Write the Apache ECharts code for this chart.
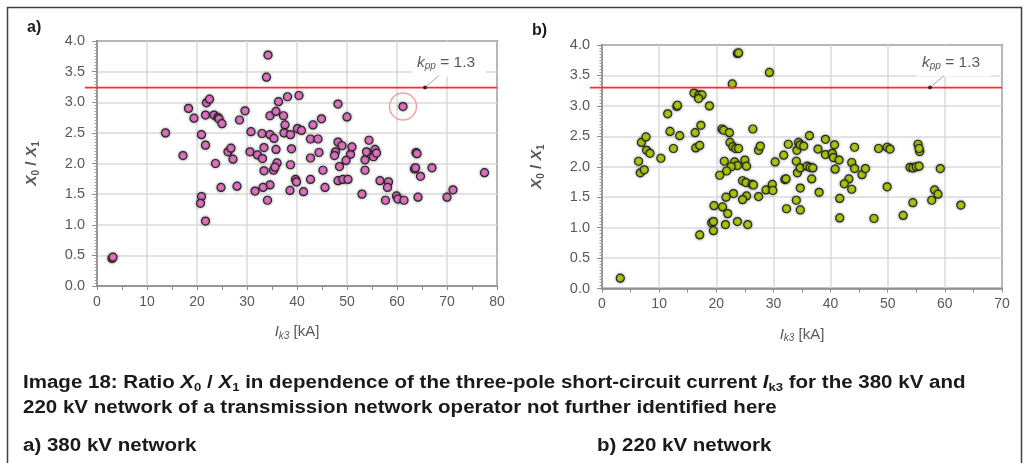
<!DOCTYPE html>
<html><head><meta charset="utf-8">
<script src="https://cdn.jsdelivr.net/npm/echarts@6/dist/echarts.min.js"></script>
<style>html,body{margin:0;padding:0;background:#fff}#c{width:1030px;height:463px}</style>
</head><body><div id="c"></div>
<script>
// ---- data ----
// a) 380 kV network: Ik3 [kA] and X0/X1
const netA_ik3 = [3.0,3.2,13.7,17.2,18.3,19.4,21.9,22.5,21.7,23.4,24.2,24.4,25.0,20.9,21.7,23.7,20.9,20.7,21.7,24.8,28.0,26.2,26.8,27.2,28.5,29.6,30.8,30.6,32.1,33.1,33.4,33.0,34.6,35.4,35.8,36.0,35.3,35.6,33.4,34.6,33.2,31.6,34.1,34.6,35.8,36.3,38.1,40.4,37.3,37.6,37.4,38.7,40.1,40.9,38.9,38.7,39.7,39.9,38.6,41.3,42.7,42.7,42.7,44.2,43.2,44.9,44.4,45.2,45.6,48.2,50.0,48.2,49.0,47.7,47.5,48.5,48.2,49.2,50.2,50.7,49.8,51.0,53.0,53.6,53.6,53.9,54.4,55.3,55.6,55.9,56.6,58.3,58.1,57.7,59.9,60.2,61.4,64.2,61.2,63.8,64.0,63.5,63.7,64.7,67.0,70.0,71.2,77.5,34.2,33.9];
const netA_ratio = [0.45,0.47,2.50,2.13,2.90,2.74,2.99,3.05,2.79,2.79,2.75,2.73,2.65,2.47,2.30,2.00,1.46,1.35,1.06,1.61,1.63,2.19,2.25,2.07,2.71,2.86,2.52,2.19,2.14,2.08,2.26,2.49,2.47,2.41,2.23,2.01,1.89,1.94,1.88,1.65,1.61,1.55,1.40,2.78,2.85,3.01,3.09,3.11,2.78,2.63,2.50,2.47,2.57,2.54,2.24,1.98,1.74,1.70,1.56,1.54,1.74,2.09,2.40,2.40,2.63,2.73,2.18,1.89,1.61,2.97,2.76,2.35,2.29,2.19,2.13,1.95,1.72,1.74,1.74,2.15,2.05,2.27,1.50,1.89,2.06,2.19,2.38,2.11,2.23,2.17,1.72,1.70,1.61,1.40,1.47,1.42,1.40,1.45,2.93,2.18,2.16,1.91,1.93,1.79,1.93,1.45,1.57,1.85,3.77,3.41];
// b) 220 kV network
const netB_ik3 = [3.2,6.4,6.7,7.4,6.9,7.7,7.8,8.4,10.3,11.5,11.9,12.5,13.1,13.2,13.6,16.1,17.0,17.5,16.9,18.8,16.3,17.3,16.4,17.1,21.0,21.3,22.3,26.4,22.4,22.9,23.4,23.9,27.4,27.7,21.4,23.2,23.7,22.6,21.8,20.6,25.0,25.3,24.6,25.2,26.3,26.5,25.3,24.6,23.0,21.7,27.4,28.7,29.8,29.9,19.6,21.1,22.0,19.2,19.5,19.5,17.1,21.6,23.7,25.5,30.3,31.8,32.0,32.2,32.6,34.1,34.0,34.4,34.7,35.3,34.2,34.7,35.9,36.4,36.9,36.3,34.7,36.7,38.0,34.0,32.3,34.7,37.8,39.1,39.1,40.3,40.7,40.5,41.5,40.8,43.7,44.2,45.5,46.1,43.2,42.4,43.7,44.2,41.6,41.6,47.6,48.4,49.9,50.4,49.9,52.7,54.4,55.3,55.6,55.5,53.9,54.4,55.0,55.5,59.2,57.7,58.2,58.8,62.8,23.7,23.9,29.3,22.8];
const netB_ratio = [0.17,2.09,1.90,1.95,2.40,2.49,2.27,2.22,2.14,2.87,2.58,2.30,2.99,3.01,2.51,3.21,3.18,3.18,3.12,3.00,2.56,2.68,2.31,2.35,2.62,2.60,2.56,2.62,2.40,2.33,2.30,2.30,2.27,2.34,2.09,2.08,2.02,2.00,1.93,1.86,2.11,2.01,1.77,1.74,1.71,1.70,1.52,1.46,1.56,1.50,1.51,1.62,1.71,1.61,1.36,1.34,1.23,1.08,1.10,0.95,0.88,1.05,1.10,1.05,2.08,2.19,1.79,1.80,2.37,2.27,2.09,2.40,2.36,2.34,1.90,1.98,2.01,1.99,1.98,2.51,1.65,1.80,1.58,1.45,1.31,1.29,2.29,2.45,2.20,2.22,2.36,2.15,2.11,1.96,2.07,1.97,1.87,1.97,1.80,1.72,1.63,2.32,1.48,1.16,1.15,2.30,2.32,2.29,1.67,1.20,1.41,2.37,2.25,2.30,1.99,1.98,2.00,2.01,1.97,1.45,1.62,1.55,1.37,3.86,3.87,3.55,3.36];
const xMaxA = 80, xMaxB = 70, xStep = 10;
const yMin = 0, yMax = 4, yStep = 0.5;
const limitA = 3.24, limitB = 3.30;          // kpp = 1.3 lines
const kppDotA = [65.6, limitA], kppDotB = [57.4, limitB];
const circledA = [61.2, 2.93];
const kppText = '{k|k}{s|pp}{t| = 1.3}';

const FONT = '"Liberation Sans", Arial, Helvetica, sans-serif';
const GREY = '#595959';
const AX = '#8c8c8c';

function zip(a, b) { return a.map((v, i) => [v, b[i]]); }

function xAxisOf(gi, max) {
  return {
    gridIndex: gi, type: 'value', min: 0, max: max, interval: xStep,
    axisLine: { show: true, onZero: false, lineStyle: { color: AX, width: 1.5 } },
    axisTick: { show: true, length: 4, lineStyle: { color: AX, width: 1 } },
    minorTick: { show: true, splitNumber: 2, length: 4, lineStyle: { color: AX, width: 1 } },
    splitLine: { show: true, lineStyle: { color: '#dadada', width: 1.5 } },
    axisLabel: { color: GREY, fontSize: 14, fontFamily: FONT, margin: 9 },
    name: '{i|I}{s|k3}{t| [kA]}', nameLocation: 'middle', nameGap: 37,
    nameTextStyle: {
      color: GREY, fontSize: 14, fontFamily: FONT,
      rich: {
        i: { fontStyle: 'italic', fontSize: 15, color: GREY, fontFamily: FONT, lineHeight: 18, verticalAlign: 'middle' },
        s: { fontStyle: 'italic', fontSize: 10, color: GREY, fontFamily: FONT, lineHeight: 12, verticalAlign: 'bottom' },
        t: { fontSize: 15, color: GREY, fontFamily: FONT, lineHeight: 18, verticalAlign: 'middle' }
      }
    }
  };
}
function yAxisOf(gi) {
  return {
    gridIndex: gi, type: 'value', min: yMin, max: yMax, interval: yStep,
    axisLine: { show: true, onZero: false, lineStyle: { color: AX, width: 1.5 } },
    axisTick: { show: true, length: 5, lineStyle: { color: AX, width: 1 } },
    minorTick: { show: true, splitNumber: 10, length: 2.5, lineStyle: { color: '#a0a0a0', width: 1 } },
    splitLine: { show: true, lineStyle: { color: '#dadada', width: 1.5 } },
    axisLabel: { color: GREY, fontSize: 14.5, fontFamily: FONT, margin: 12, formatter: v => v.toFixed(1) },
    name: '{x|X}{s|0}{t| / }{x|X}{s|1}', nameLocation: 'middle', nameGap: 56, nameRotate: 90,
    nameTextStyle: {
      color: GREY, fontSize: 15, fontFamily: FONT, fontWeight: 'bold',
      rich: {
        x: { fontStyle: 'italic', fontWeight: 'bold', fontSize: 15.5, color: GREY, fontFamily: FONT, lineHeight: 18, verticalAlign: 'middle' },
        s: { fontWeight: 'bold', fontSize: 10, color: GREY, fontFamily: FONT, lineHeight: 12, verticalAlign: 'bottom' },
        t: { fontWeight: 'bold', fontSize: 15.5, color: GREY, fontFamily: FONT, lineHeight: 18, verticalAlign: 'middle' }
      }
    }
  };
}
function scatterOf(gi, data, fill) {
  return {
    type: 'scatter', xAxisIndex: gi, yAxisIndex: gi, data: data, symbolSize: 8, z: 3,
    itemStyle: { color: fill, borderColor: '#262626', borderWidth: 1.2, shadowBlur: 3, shadowColor: 'rgba(0,0,0,0.35)', opacity: 1 },
    emphasis: { disabled: true }, animation: false
  };
}

const chart = echarts.init(document.getElementById('c'));
chart.setOption({
  animation: false,
  backgroundColor: '#fff',
  grid: [
    { left: 97, top: 41, width: 400, height: 245, show: true, borderColor: '#111', borderWidth: 1.5, backgroundColor: 'transparent' },
    { left: 602, top: 45, width: 400, height: 243.5, show: true, borderColor: '#111', borderWidth: 1.5, backgroundColor: 'transparent' }
  ],
  xAxis: [xAxisOf(0, xMaxA), xAxisOf(1, xMaxB)],
  yAxis: [yAxisOf(0), yAxisOf(1)],
  series: [
    scatterOf(0, zip(netA_ik3, netA_ratio), '#e674c8'),
    { type: 'scatter', xAxisIndex: 0, yAxisIndex: 0, data: [circledA], symbolSize: 27, z: 4, silent: true,
      itemStyle: { color: 'rgba(0,0,0,0)', borderColor: '#f08c8c', borderWidth: 1.5 } },
    { type: 'scatter', xAxisIndex: 0, yAxisIndex: 0, data: [kppDotA], symbolSize: 4, z: 6, silent: true, itemStyle: { color: '#111' } },
    scatterOf(1, zip(netB_ik3, netB_ratio), '#afcc0a'),
    { type: 'scatter', xAxisIndex: 1, yAxisIndex: 1, data: [kppDotB], symbolSize: 4, z: 6, silent: true, itemStyle: { color: '#111' } }
  ]
});

function panelGraphics(gi, xmax, limit, dot, top) {
  const p0 = chart.convertToPixel({ gridIndex: gi }, [0, limit]);
  const p1 = chart.convertToPixel({ gridIndex: gi }, [xmax, limit]);
  const d = chart.convertToPixel({ gridIndex: gi }, dot);
  const tx = d[0] - 8;
  return [
    { type: 'rect', z: 1, shape: { x: tx - 5, y: top + 1.5, width: 74, height: (d[1] - 11) - (top + 1.5) }, style: { fill: '#fff' } },
    { type: 'line', z: 5, shape: { x1: p0[0] - 12, y1: p0[1], x2: p1[0], y2: p1[1] }, style: { stroke: '#ff2a2a', lineWidth: 1.8 } },
    { type: 'line', z: 5, shape: { x1: d[0], y1: d[1], x2: d[0] + 14, y2: d[1] - 12 }, style: { stroke: '#a6a6a6', lineWidth: 1 } },
    { type: 'text', z: 5, x: tx, y: d[1] - 25, style: {
        text: kppText, fontFamily: FONT, fontSize: 15, fill: GREY, verticalAlign: 'middle',
        rich: {
          k: { fontStyle: 'italic', fontSize: 15.5, fill: GREY, fontFamily: FONT, lineHeight: 18, verticalAlign: 'middle' },
          s: { fontStyle: 'italic', fontSize: 10, fill: GREY, fontFamily: FONT, lineHeight: 12, verticalAlign: 'bottom' },
          t: { fontSize: 15.5, fill: GREY, fontFamily: FONT, lineHeight: 18, verticalAlign: 'middle' }
        } } }
  ];
}

const CAP = 18, CAPX = 1.14;
const capRich = {
  b: { fontWeight: 'bold', fontSize: CAP, fill: '#1a1a1a', fontFamily: FONT, lineHeight: 22, verticalAlign: 'middle' },
  x: { fontWeight: 'bold', fontStyle: 'italic', fontSize: CAP, fill: '#1a1a1a', fontFamily: FONT, lineHeight: 22, verticalAlign: 'middle' },
  s: { fontWeight: 'bold', fontSize: 11.5, fill: '#1a1a1a', fontFamily: FONT, lineHeight: 14, verticalAlign: 'bottom' }
};
function capText(x, y, text) {
  return { type: 'text', z: 5, x: x, y: y, scaleX: CAPX, style: { text: text, rich: capRich, fontFamily: FONT, fontSize: CAP, fontWeight: 'bold', fill: '#1a1a1a', verticalAlign: 'middle' } };
}

chart.setOption({
  graphic: [
    { type: 'rect', z: 0, shape: { x: 7.5, y: 7.5, width: 1014, height: 480 }, style: { fill: 'none', stroke: '#404040', lineWidth: 1.5 } },
    { type: 'text', z: 5, x: 27, y: 28, style: { text: 'a)', fontFamily: FONT, fontSize: 16, fontWeight: 'bold', fill: '#1a1a1a', verticalAlign: 'middle' } },
    { type: 'text', z: 5, x: 532, y: 31, style: { text: 'b)', fontFamily: FONT, fontSize: 16, fontWeight: 'bold', fill: '#1a1a1a', verticalAlign: 'middle' } },
    ...panelGraphics(0, xMaxA, limitA, kppDotA, 41),
    ...panelGraphics(1, xMaxB, limitB, kppDotB, 45),
    capText(23, 383, '{b|Image 18: Ratio }{x|X}{s|0}{b| / }{x|X}{s|1}{b| in dependence of the three-pole short-circuit current }{x|I}{s|k3}{b| for the 380 kV and}'),
    capText(23, 408, '{b|220 kV network of a transmission network operator not further identified here}'),
    capText(23, 446, '{b|a) 380 kV network}'),
    capText(597, 446, '{b|b) 220 kV network}')
  ]
});
</script></body></html>
